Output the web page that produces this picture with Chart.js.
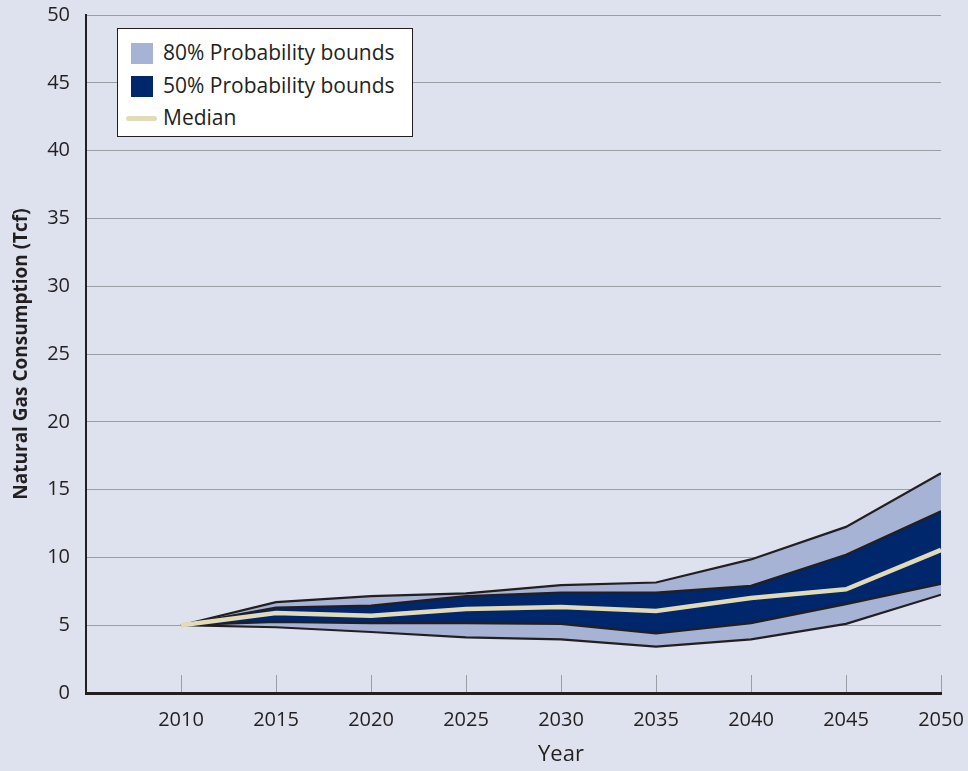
<!DOCTYPE html>
<html>
<head>
<meta charset="utf-8">
<script src="https://cdn.jsdelivr.net/npm/chart.js@4.4.1/dist/chart.umd.min.js"></script>
<style>
  html, body { margin: 0; padding: 0; background: #dee2ee; }
  #wrap { position: relative; width: 968px; height: 771px; }
  #legend {
    position: absolute; left: 117px; top: 28px; width: 296px; height: 109px;
    box-sizing: border-box; background: #fff; border: 1px solid #231f20;
    font-family: "Open Sans", sans-serif; font-size: 21px; color: #231f20;
  }
  .row { position: absolute; left: 0; height: 24px; line-height: 24px; }
  .sw { position: absolute; left: 13px; top: 1px; width: 22px; height: 21px; }
  .ln { position: absolute; left: 8px; top: 9px; width: 31px; height: 5px; border-radius: 3px; background: #e2dbb8; }
  .tx { position: absolute; left: 45px; top: -2px; white-space: nowrap; }
</style>
</head>
<body>
<div id="wrap">
  <canvas id="chartGas" width="968" height="771"></canvas>
  <div id="legend">
    <div class="row" style="top:13px"><div class="sw" style="background:#a6b3d5"></div><span class="tx">80% Probability bounds</span></div>
    <div class="row" style="top:46px"><div class="sw" style="background:#00266b"></div><span class="tx">50% Probability bounds</span></div>
    <div class="row" style="top:78px"><div class="ln"></div><span class="tx">Median</span></div>
  </div>
</div>
<script>
// years and values (Tcf)
var years = [2010, 2015, 2020, 2025, 2030, 2035, 2040, 2045, 2050];
var median  = [5.0, 5.9, 5.7, 6.2, 6.35, 6.05, 7.0, 7.65, 10.55];
var upper50 = [5.0, 6.3, 6.45, 7.15, 7.4, 7.4, 7.9, 10.2, 13.4];
var lower50 = [5.0, 5.25, 5.15, 5.15, 5.1, 4.4, 5.15, 6.55, 8.05];
var upper80 = [5.0, 6.7, 7.15, 7.35, 7.95, 8.15, 9.85, 12.25, 16.2];
var lower80 = [5.0, 4.85, 4.5, 4.1, 3.95, 3.42, 3.95, 5.1, 7.25];
var yTicks = [0, 5, 10, 15, 20, 25, 30, 35, 40, 45, 50];

var fontName = '"Open Sans", sans-serif';
var inkColor = '#231f20';

function pts(vals) {
    var out = [];
    for (let i = 0; i < years.length; i++) {
        out.push({x: years[i], y: vals[i]});
    }
    return out;
}

function boundLine(vals, fillTo, fillColor) {
    return {
        data: pts(vals),
        borderColor: inkColor,
        borderWidth: 2.2,
        pointRadius: 0,
        tension: 0,
        fill: fillTo,
        backgroundColor: fillColor
    };
}

// small tick marks inside the plot and the "Year" label under 2030
var extras = {
    id: 'extras',
    afterDraw: function (chart) {
        let ctx = chart.ctx;
        let xs = chart.scales.x;
        let bottom = chart.chartArea.bottom;
        ctx.save();
        ctx.strokeStyle = '#9c9ea5';
        ctx.lineWidth = 1;
        for (let i = 0; i < years.length; i++) {
            let px = Math.round(xs.getPixelForValue(years[i])) + 0.5;
            ctx.beginPath();
            ctx.moveTo(px, bottom - 18);
            ctx.lineTo(px, bottom - 1);
            ctx.stroke();
        }
        ctx.fillStyle = inkColor;
        ctx.font = '22px ' + fontName;
        ctx.textAlign = 'center';
        ctx.textBaseline = 'middle';
        ctx.fillText('Year', xs.getPixelForValue(2030), 755);
        ctx.restore();
    }
};

var chartGas = new Chart(document.getElementById('chartGas'), {
    type: 'line',
    data: {
        datasets: [
            {
                data: pts(median),
                borderColor: '#e2dbb8',
                borderWidth: 4.5,
                pointRadius: 0,
                tension: 0,
                fill: false
            },
            boundLine(upper50, '+1', '#00266b'),
            boundLine(lower50, false, 'transparent'),
            boundLine(upper80, '+1', '#a6b3d5'),
            boundLine(lower80, false, 'transparent')
        ]
    },
    options: {
        responsive: false,
        animation: false,
        devicePixelRatio: 1,
        layout: { padding: { left: 0, right: 27, top: 15, bottom: 0 } },
        plugins: {
            legend: { display: false },
            tooltip: { enabled: false },
            filler: { drawTime: 'beforeDatasetsDraw' }
        },
        scales: {
            x: {
                type: 'linear',
                min: 2005,
                max: 2050,
                afterFit: function (scale) {
                    scale.height = 78;
                    scale.paddingLeft = 0;
                    scale.paddingRight = 0;
                },
                afterBuildTicks: function (scale) {
                    scale.ticks = years.map(function (v) { return {value: v}; });
                },
                ticks: {
                    color: inkColor,
                    font: { family: fontName, size: 20 },
                    padding: 15,
                    maxRotation: 0,
                    callback: function (v) { return String(v); }
                },
                grid: { display: false, drawTicks: false },
                border: { color: inkColor, width: 3 }
            },
            y: {
                min: 0,
                max: 50,
                afterFit: function (scale) {
                    scale.width = 86;
                    scale.paddingTop = 0;
                    scale.paddingBottom = 0;
                },
                afterBuildTicks: function (scale) {
                    scale.ticks = yTicks.map(function (v) { return {value: v}; });
                },
                ticks: {
                    color: inkColor,
                    font: { family: fontName, size: 20 },
                    padding: 16
                },
                grid: { color: '#9c9ea5', lineWidth: 1, drawTicks: false },
                border: { color: inkColor, width: 2 },
                title: {
                    display: true,
                    text: 'Natural Gas Consumption (Tcf)',
                    color: inkColor,
                    font: { family: fontName, size: 19, weight: 'bold' },
                    padding: { top: 10, bottom: 0 }
                }
            }
        }
    },
    plugins: [extras]
});
</script>
</body>
</html>
